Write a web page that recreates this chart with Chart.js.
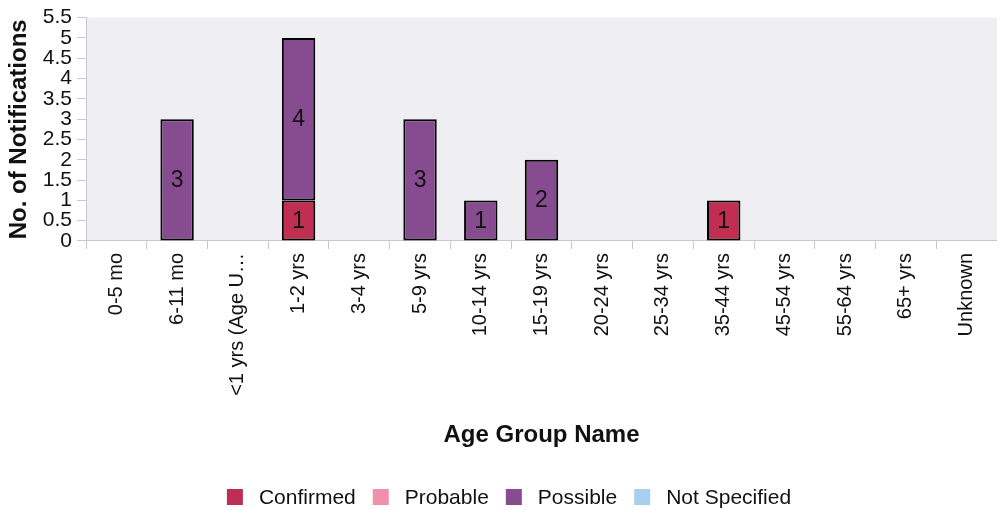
<!DOCTYPE html>
<html><head><meta charset="utf-8">
<script src="https://cdn.jsdelivr.net/npm/chart.js@4/dist/chart.umd.min.js"></script>
<style>html,body{margin:0;padding:0;background:#fff;}#wrap{width:997px;height:510px;}</style>
</head><body><div id="wrap"><canvas id="c"></canvas></div>
<script>
const categories = ["0-5 mo","6-11 mo","<1 yrs (Age U…","1-2 yrs","3-4 yrs","5-9 yrs","10-14 yrs","15-19 yrs","20-24 yrs","25-34 yrs","35-44 yrs","45-54 yrs","55-64 yrs","65+ yrs","Unknown"];
const confirmed    = [0,0,0,1,0,0,0,0,0,0,1,0,0,0,0];
const probable     = [0,0,0,0,0,0,0,0,0,0,0,0,0,0,0];
const possible     = [0,3,0,4,0,3,1,2,0,0,0,0,0,0,0];
const notSpecified = [0,0,0,0,0,0,0,0,0,0,0,0,0,0,0];
const yTicks = [0,0.5,1,1.5,2,2.5,3,3.5,4,4.5,5,5.5];
const yTickLabels = ["0","0.5","1","1.5","2","2.5","3","3.5","4","4.5","5","5.5"];

const FONT = "'Liberation Sans', Arial, sans-serif";

const bgPlugin = {
  id:'bg',
  beforeDraw(chart){
    const {ctx, chartArea:a} = chart;
    ctx.save(); ctx.fillStyle='#EEEEF3';
    ctx.fillRect(a.left, a.top, a.right-a.left, a.bottom-a.top);
    ctx.restore();
  }
};
const labelPlugin = {
  id:'vals',
  afterDatasetsDraw(chart){
    const ctx = chart.ctx;
    ctx.save();
    ctx.font = "23px " + FONT;
    ctx.fillStyle = '#111';
    ctx.textAlign='center'; ctx.textBaseline='middle';
    chart.data.datasets.forEach((ds,i)=>{
      const meta = chart.getDatasetMeta(i);
      if (meta.hidden) return;
      meta.data.forEach((bar,j)=>{
        const v = ds.data[j];
        if (!v) return;
        const p = bar.getProps(['x','y','base'],true);
        ctx.fillText(String(v), p.x, (p.y+p.base)/2+1);
      });
    });
    ctx.restore();
  }
};
const legendPlugin = {
  id:'customLegend',
  afterDraw(chart){
    const ctx = chart.ctx;
    ctx.save();
    ctx.font = "21px " + FONT;
    ctx.textBaseline='middle'; ctx.textAlign='left';
    const box = 16, gapText = 16, gapItem = 17, cy = 497;
    const items = chart.data.datasets.map(d=>({t:d.label, c:d.backgroundColor, w:ctx.measureText(d.label).width}));
    const total = items.reduce((s,it)=>s+box+gapText+it.w,0) + gapItem*(items.length-1);
    let x = 509 - total/2;
    items.forEach(it=>{
      ctx.fillStyle = it.c;
      ctx.fillRect(x, cy-8, box, box);
      ctx.fillStyle = '#111';
      ctx.fillText(it.t, x+box+gapText, cy+1);
      x += box+gapText+it.w+gapItem;
    });
    ctx.restore();
  }
};

function mk(label, data, color){
  return {label, data, backgroundColor:color, borderColor:'#000', borderWidth:2, borderSkipped:false,
    categoryPercentage:1, barPercentage:0.55};
}

new Chart(document.getElementById('c'), {
  type:'bar',
  data:{
    labels:categories,
    datasets:[
      mk('Confirmed', confirmed, '#C02F52'),
      mk('Probable', probable, '#EE91AA'),
      mk('Possible', possible, '#874C8F'),
      mk('Not Specified', notSpecified, '#A6D0EE')
    ]
  },
  options:{
    responsive:true, maintainAspectRatio:false, animation:false,
    layout:{padding:{top:17,right:0,left:0,bottom:0}},
    plugins:{
      legend:{display:false},
      tooltip:{enabled:false}
    },
    scales:{
      x:{stacked:true,
        grid:{drawOnChartArea:false, offset:true, tickLength:8, color:'#c8c8c8'},
        border:{color:'#c8c8c8'},
        ticks:{font:{family:FONT,size:20}, color:'#111', minRotation:90, maxRotation:90, autoSkip:false, padding:4},
        title:{display:true, text:'Age Group Name', font:{family:FONT,size:24,weight:'bold'}, color:'#111', padding:{top:0,bottom:60}},
        afterFit(s){ s.height = 269; }
      },
      y:{stacked:true, min:0, max:5.5,
        afterBuildTicks(s){ s.ticks = yTicks.map(v=>({value:v})); },
        grid:{drawOnChartArea:false, tickLength:9, color:'#c8c8c8'},
        border:{color:'#c8c8c8'},
        ticks:{font:{family:FONT,size:21}, color:'#111', padding:5, autoSkip:false,
          callback:(v,i)=>yTickLabels[yTicks.indexOf(v)]},
        title:{display:true, text:'No. of Notifications', font:{family:FONT,size:24,weight:'bold'}, color:'#111', padding:{top:5,bottom:0}},
        afterFit(s){ s.width = 86; }
      }
    }
  },
  plugins:[bgPlugin,labelPlugin,legendPlugin]
});
</script></body></html>
